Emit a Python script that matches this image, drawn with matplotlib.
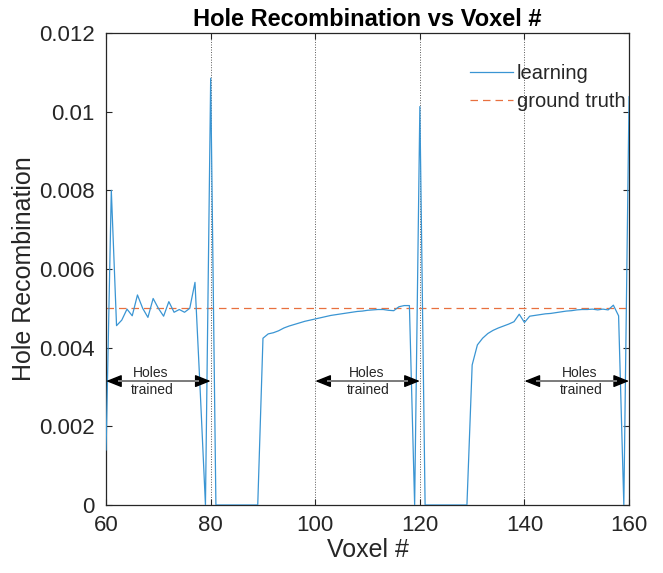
import matplotlib
matplotlib.use("Agg")
import matplotlib.pyplot as plt

plt.rcParams['font.family'] = ['Liberation Sans', 'DejaVu Sans']

voxels = list(range(60, 161))
learning = [
    0.0014, 0.0080, 0.00456, 0.0047, 0.00498, 0.00481, 0.00534, 0.00500, 0.00477, 0.00525,
    0.00500, 0.00480, 0.00517, 0.00490, 0.00497, 0.00490, 0.00500, 0.00566, 0.00290, 0.0,
    0.01085,
    0, 0, 0, 0, 0, 0, 0, 0, 0,
    0.00424, 0.00435, 0.00438, 0.00443, 0.00450, 0.00455, 0.00459, 0.00463, 0.00467, 0.00470,
    0.00473, 0.00476, 0.00479, 0.00482, 0.00484, 0.00486, 0.00488, 0.00490, 0.00492, 0.00493,
    0.00495, 0.00496, 0.00497, 0.00497, 0.00495, 0.00494, 0.00504, 0.00507, 0.00507,
    0.0, 0.01013,
    0, 0, 0, 0, 0, 0, 0, 0, 0,
    0.00356, 0.00407, 0.00424, 0.00436, 0.00444, 0.00450, 0.00455, 0.00460, 0.00466, 0.00485,
    0.00464, 0.00480, 0.00482, 0.00484, 0.00486, 0.00487, 0.00489, 0.00491, 0.00493, 0.00494,
    0.00496, 0.00497, 0.00497, 0.00498, 0.00496, 0.00498, 0.00496, 0.00508, 0.00481, 0.0,
    0.01038,
]
ground_truth = 0.005
boundaries = [80, 100, 120, 140]
trained_ranges = [(60, 80), (100, 120), (140, 160)]
label_x = [68.5, 109.8, 150.5]
arrow_y = 0.00315
xticks = [60, 80, 100, 120, 140, 160]
yticks = [0, 0.002, 0.004, 0.006, 0.008, 0.010, 0.012]
yticklabels = ['0', '0.002', '0.004', '0.006', '0.008', '0.01', '0.012']

fig = plt.figure(figsize=(6.63, 5.73), dpi=100)
ax = fig.add_axes([0.160, 0.1187, 0.7888, 0.8237])

axc = '#262626'
for b in boundaries:
    ax.axvline(b, color='0.35', lw=0.7, linestyle=(0, (1, 1.6)), zorder=1)

ax.plot(voxels, learning, color='#3A95D3', lw=0.9, label='learning', zorder=3)
ax.axhline(ground_truth, color='#E8703F', lw=0.9, linestyle=(0, (6, 4)),
           label='ground truth', zorder=2)

for (x0, x1), lx in zip(trained_ranges, label_x):
    ax.annotate('', xy=(x1, arrow_y), xytext=(x0, arrow_y),
                arrowprops=dict(arrowstyle='<|-|>,head_length=0.95,head_width=0.38',
                                color='black', lw=1.0, shrinkA=0, shrinkB=0),
                zorder=4)
    ax.plot([x0 + 2.3, x1 - 2.3], [arrow_y, arrow_y], color='0.5', lw=1.4, zorder=5,
            solid_capstyle='butt')
    ax.text(lx, 0.00326, 'Holes', ha='center', va='baseline', fontsize=10, color=axc, zorder=6)
    ax.text(lx + 0.3, 0.00281, 'trained', ha='center', va='baseline', fontsize=10, color=axc, zorder=6)

ax.set_xlim(60, 160)
ax.set_ylim(0, 0.012)
ax.set_xticks(xticks)
ax.set_yticks(yticks)
ax.set_yticklabels(yticklabels)
ax.tick_params(direction='in', length=4, width=0.8, colors=axc, labelsize=16,
               top=True, right=True)
ax.tick_params(axis='y', pad=8)
ax.tick_params(axis='x', pad=7)
for s in ax.spines.values():
    s.set_color(axc)
    s.set_linewidth(0.9)

ax.set_title('Hole Recombination vs Voxel #', fontsize=17, fontweight='bold', pad=5)
ax.set_xlabel('Voxel #', fontsize=18, color=axc, labelpad=2)
ax.set_ylabel('Hole Recombination', fontsize=18, color=axc, labelpad=2)

leg = ax.legend(loc='upper right', bbox_to_anchor=(1.016, 0.96), frameon=False,
                fontsize=14.5, handlelength=2.1, handletextpad=0.2,
                labelspacing=0.45, borderaxespad=0.2)
for t in leg.get_texts():
    t.set_color(axc)

fig.savefig('out.png', dpi=100)
